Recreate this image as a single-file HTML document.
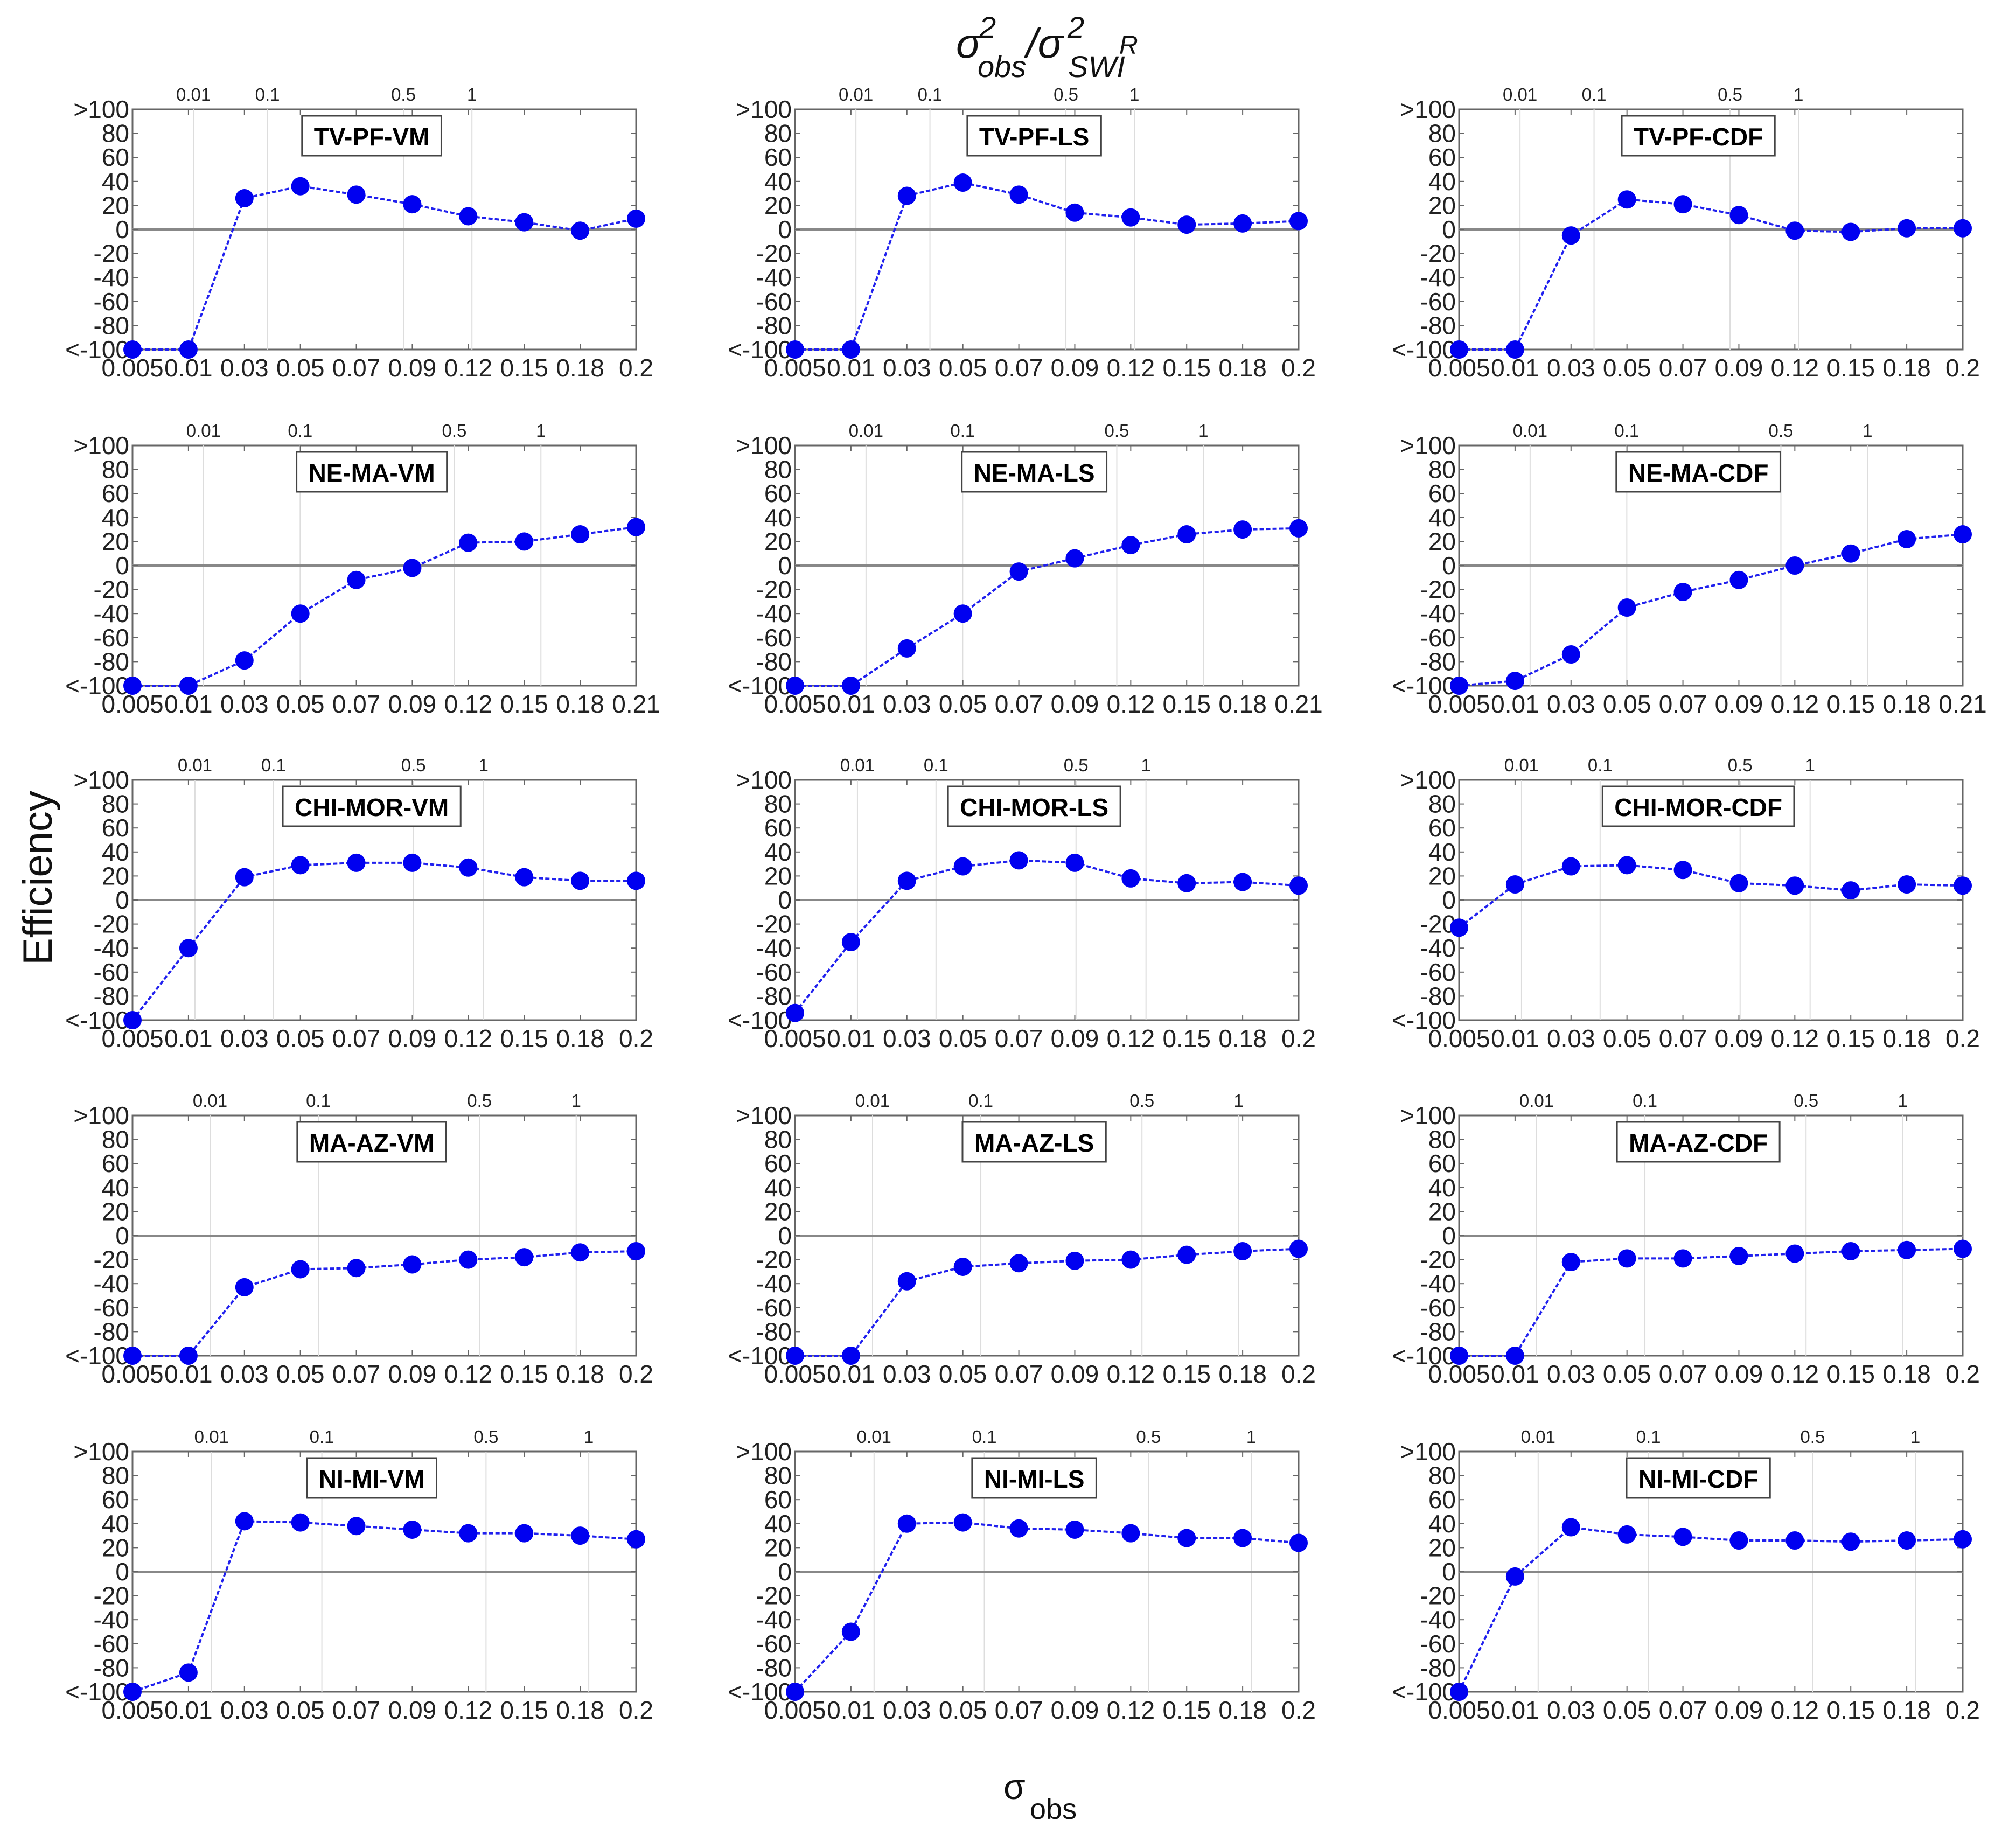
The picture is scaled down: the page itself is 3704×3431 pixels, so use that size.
<!DOCTYPE html>
<html><head><meta charset="utf-8"><style>
html,body{margin:0;padding:0;background:#fff;}
svg{display:block;}
text{font-family:"Liberation Sans Narrow","Liberation Sans",sans-serif;}
</style></head><body>
<svg id="fig" width="3704" height="3431" viewBox="0 0 3704 3431" xmlns="http://www.w3.org/2000/svg">
<g font-style="italic" fill="#111">
<text x="1775" y="107" font-size="78" font-family="Liberation Sans, sans-serif">σ</text>
<text x="1818" y="70" font-size="56">2</text>
<text x="1815" y="143" font-size="56">obs</text>
<text x="1905" y="107" font-size="78" font-family="Liberation Sans, sans-serif">/σ</text>
<text x="1982" y="70" font-size="56">2</text>
<text x="1983" y="143" font-size="56">SWI</text>
<text x="2078" y="100" font-size="48">R</text>
</g>
<text x="0" y="0" font-size="76" font-family="Liberation Sans, sans-serif" fill="#111" text-anchor="middle" transform="translate(96,1630) rotate(-90)">Efficiency</text>
<g fill="#111">
<text x="1863" y="3340" font-size="66" font-family="Liberation Sans, sans-serif">σ</text>
<text x="1912" y="3377" font-size="54" font-family="Liberation Sans, sans-serif">obs</text>
</g>
</svg>
<script>
const titles=["TV-PF-VM","TV-PF-LS","TV-PF-CDF","NE-MA-VM","NE-MA-LS","NE-MA-CDF","CHI-MOR-VM","CHI-MOR-LS","CHI-MOR-CDF","MA-AZ-VM","MA-AZ-LS","MA-AZ-CDF","NI-MI-VM","NI-MI-LS","NI-MI-CDF"];
const xLabelsA=["0.005","0.01","0.03","0.05","0.07","0.09","0.12","0.15","0.18","0.2"];
const xLabelsB=["0.005","0.01","0.03","0.05","0.07","0.09","0.12","0.15","0.18","0.21"];
const yTicks=[-100,-80,-60,-40,-20,0,20,40,60,80,100];
const yTickLabels=["<-100","-80","-60","-40","-20","0","20","40","60","80",">100"];
const topTickLabels=["0.01","0.1","0.5","1"];
// top-axis tick positions as a fraction of the axis width, per row
const topTickFrac=[[0.121,0.268,0.538,0.674],[0.141,0.333,0.639,0.811],[0.124,0.280,0.558,0.697],[0.154,0.369,0.689,0.881],[0.157,0.376,0.702,0.906]];
const vTVPFVM=[-100,-100,26,36,29,21,11,6,-1,9];
const vTVPFLS=[-100,-100,28,39,29,14,10,4,5,7];
const vTVPFCDF=[-100,-100,-5,25,21,12,-1,-2,1,1];
const vNEMAVM=[-100,-100,-79,-40,-12,-2,19,20,26,32];
const vNEMALS=[-100,-100,-69,-40,-5,6,17,26,30,31];
const vNEMACDF=[-100,-96,-74,-35,-22,-12,0,10,22,26];
const vCHIMORVM=[-100,-40,19,29,31,31,27,19,16,16];
const vCHIMORLS=[-94,-35,16,28,33,31,18,14,15,12];
const vCHIMORCDF=[-23,13,28,29,25,14,12,8,13,12];
const vMAAZVM=[-100,-100,-43,-28,-27,-24,-20,-18,-14,-13];
const vMAAZLS=[-100,-100,-38,-26,-23,-21,-20,-16,-13,-11];
const vMAAZCDF=[-100,-100,-22,-19,-19,-17,-15,-13,-12,-11];
const vNIMIVM=[-100,-84,42,41,38,35,32,32,30,27];
const vNIMILS=[-100,-50,40,41,36,35,32,28,28,24];
const vNIMICDF=[-100,-4,37,31,29,26,26,25,26,27];
const series=[vTVPFVM,vTVPFLS,vTVPFCDF,vNEMAVM,vNEMALS,vNEMACDF,vCHIMORVM,vCHIMORLS,vCHIMORCDF,vMAAZVM,vMAAZLS,vMAAZCDF,vNIMIVM,vNIMILS,vNIMICDF];

const NS="http://www.w3.org/2000/svg";
const svg=document.getElementById('fig');
const colLeft=[246,1476,2709], rowTop=[203,827,1448,2071,2695];
const W=935,H=446;
function mk(tag,attrs,parent){const e=document.createElementNS(NS,tag);for(const k in attrs)e.setAttribute(k,attrs[k]);parent.appendChild(e);return e;}
for(let p=0;p<15;p++){
  const r=Math.floor(p/3),c=p%3;
  const L=colLeft[c],T=rowTop[r];
  const labels=(r===1)?xLabelsB:xLabelsA;
  const vals=series[p];
  const n=labels.length;
  const xs=i=>L+i*W/(n-1);
  const ys=v=>T+H-(v+100)/200*H;
  const g=mk('g',{},svg);
  
  
  const bg=mk('rect',{x:L,y:T,width:W,height:H,fill:'#fff',stroke:'#666','stroke-width':3},g);
  
  
  // top ticks and gridlines
  topTickFrac[r].forEach((f,k)=>{
    const x=L+f*W;
    const gl=mk('line',{x1:x,y1:T,x2:x,y2:T+H,stroke:'#ddd','stroke-width':2},g);
    
    
    const tl=mk('text',{x:x,y:T-16,'font-size':33,'text-anchor':'middle',fill:'#222'},g);
    
    
    tl.textContent=topTickLabels[k];
  });
  // zero line
  const zl=mk('line',{x1:L,y1:ys(0),x2:L+W,y2:ys(0),stroke:'#888','stroke-width':4},g);
  
  
  // y ticks
  yTicks.forEach((v,k)=>{
    const y=ys(v);
    mk('line',{x1:L,y1:y,x2:L+10,y2:y,stroke:'#666','stroke-width':2},g);
    mk('line',{x1:L+W,y1:y,x2:L+W-10,y2:y,stroke:'#666','stroke-width':2},g);
    const t=mk('text',{x:L-6,y:y+16,'font-size':46,'text-anchor':'end',fill:'#222'},g);
    
    
    t.textContent=yTickLabels[k];
  });
  // x ticks
  labels.forEach((lb,i)=>{
    const x=xs(i);
    mk('line',{x1:x,y1:T+H,x2:x,y2:T+H-10,stroke:'#666','stroke-width':2},g);
    mk('line',{x1:x,y1:T,x2:x,y2:T+10,stroke:'#666','stroke-width':2},g);
    const t=mk('text',{x:x,y:T+H+50,'font-size':46,'text-anchor':'middle',fill:'#222'},g);
    
    
    t.textContent=lb;
  });
  // line
  const pts=vals.map((v,i)=>xs(i)+','+ys(v)).join(' ');
  const pl=mk('polyline',{points:pts,fill:'none',stroke:'#2020ee','stroke-width':4,'stroke-dasharray':'8 4'},g);
  
  
  vals.forEach((v,i)=>{
    const m=mk('circle',{cx:xs(i),cy:ys(v),r:17,fill:'#0000f0'},g);
    
    
  });
  // label box
  const cx=L+0.475*W;
  const lt=mk('text',{x:cx,y:T+67,'font-size':46,'font-weight':'bold','text-anchor':'middle',fill:'#000'},g);
  
  
  lt.textContent=titles[p];
  const w=lt.getComputedTextLength()+44;
  const box=mk('rect',{x:cx-w/2,y:T+12,width:w,height:74,fill:'#fff',stroke:'#444','stroke-width':3},g);
  
  
  g.insertBefore(box,lt);
}
</script>
</body></html>
